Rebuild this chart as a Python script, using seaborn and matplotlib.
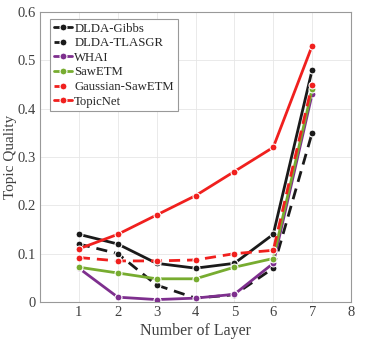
import numpy as np
import pandas as pd
import seaborn as sns
import matplotlib.pyplot as plt

layers = [1, 2, 3, 4, 5, 6, 7]
dlda_gibbs = [0.14, 0.12, 0.08, 0.07, 0.08, 0.14, 0.48]
dlda_tlasgr = [0.12, 0.10, 0.035, 0.008, 0.015, 0.07, 0.35]
whai = [0.07, 0.01, 0.005, 0.008, 0.016, 0.08, 0.43]
sawetm = [0.072, 0.06, 0.048, 0.048, 0.072, 0.09, 0.44]
gauss_sawetm = [0.092, 0.085, 0.085, 0.087, 0.10, 0.107, 0.45]
topicnet = [0.11, 0.14, 0.18, 0.22, 0.27, 0.32, 0.53]

names = ['DLDA-Gibbs', 'DLDA-TLASGR', 'WHAI', 'SawETM', 'Gaussian-SawETM', 'TopicNet']
series = [dlda_gibbs, dlda_tlasgr, whai, sawetm, gauss_sawetm, topicnet]

df = pd.DataFrame({
    'layer': layers * len(names),
    'quality': np.concatenate(series),
    'model': np.repeat(names, len(layers)),
})

colors = {'DLDA-Gibbs': '#1a1a1a', 'DLDA-TLASGR': '#1a1a1a', 'WHAI': '#7e2f8e',
          'SawETM': '#77ac30', 'Gaussian-SawETM': '#f0201e', 'TopicNet': '#f0201e'}
dashes = {'DLDA-Gibbs': '', 'DLDA-TLASGR': (4, 2.5), 'WHAI': '', 'SawETM': '',
          'Gaussian-SawETM': (4, 2.5), 'TopicNet': ''}

sns.set_style('whitegrid')
plt.rcParams['font.family'] = ['Liberation Serif', 'DejaVu Serif']

fig = plt.figure(figsize=(3.73, 3.45), dpi=100)
ax = fig.add_axes([40 / 373, 1 - 302 / 345, 311 / 373, 290 / 345])

sns.lineplot(data=df, x='layer', y='quality', hue='model', style='model',
             hue_order=names, style_order=names, palette=colors, dashes=dashes,
             markers={n: 'o' for n in names}, markersize=5, markeredgewidth=0.8,
             linewidth=2, ax=ax)

ax.set_xlim(0, 8)
ax.set_ylim(0, 0.6)
ax.set_xticks(range(1, 9))
ax.set_yticks(np.arange(0, 0.61, 0.1))
ax.set_yticklabels(['0', '0.1', '0.2', '0.3', '0.4', '0.5', '0.6'])
ax.tick_params(labelsize=10.5, colors='#404040', direction='in', length=0, pad=3)
ax.grid(color='#e6e6e6', linewidth=0.6)
for s in ax.spines.values():
    s.set_color('#999999')
    s.set_linewidth(0.8)
ax.set_xlabel('Number of Layer', fontsize=11.5, color='#404040', labelpad=3)
ax.set_ylabel('Topic Quality', fontsize=11, color='#404040', labelpad=0)

leg = ax.legend(loc='upper left', fontsize=9.2, handlelength=1.4, handletextpad=0.2,
                labelspacing=0.2, borderpad=0.3, borderaxespad=0, fancybox=False,
                framealpha=1, bbox_to_anchor=(0.032, 0.976))
leg.get_frame().set_edgecolor('#999999')
leg.get_frame().set_linewidth(0.8)

fig.savefig('out.png', dpi=100)
